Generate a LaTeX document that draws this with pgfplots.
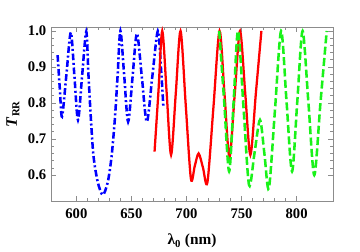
\documentclass[border=0pt]{standalone}
\usepackage{fontspec}
\setmainfont{Liberation Serif}
\usepackage{pgfplots}
\pgfplotsset{compat=1.18}
\definecolor{mygreen}{rgb}{0.1,0.95,0.1}
\begin{document}
\begin{tikzpicture}
\useasboundingbox (-38.25pt,-38.25pt) rectangle (231.75pt,150.75pt);
\begin{axis}[
  scale only axis,
  width=211.5pt, height=130.5pt,
  xmin=577, xmax=833,
  ymin=0.528, ymax=1.011,
  xtick={600,650,700,750,800},
  ytick={0.6,0.7,0.8,0.9,1.0},
  minor x tick num=4,
  minor y tick num=4,
  tick align=inside,
  major tick length=4pt,
  minor tick length=2pt,
  axis line style={black!45},
  every tick/.style={black!45, line width=0.5pt},
  /pgf/number format/assume math mode=true,
  yticklabel style={/pgf/number format/fixed,/pgf/number format/precision=1,/pgf/number format/fixed zerofill, font=\fontsize{11}{13}\selectfont\bfseries},
  xticklabel style={font=\fontsize{11}{13}\selectfont\bfseries, yshift=-2pt},
  xlabel={\textbf{λ\textsubscript{0} (nm)}},
  ylabel={\textbf{\textit{T}}\textsubscript{\textbf{RR}}},
  xlabel style={at={(axis description cs:0.5,-0.23)}, anchor=center, font=\fontsize{11.5}{13}\selectfont},
  ylabel style={at={(axis description cs:-0.135,0.5)}, anchor=center, font=\fontsize{12}{13}\selectfont},
  clip=true,
]
\addplot[blue, line width=1.9pt, smooth, dash pattern=on 5pt off 2pt on 1.5pt off 2pt] coordinates {
(583,0.933)(585,0.84)(587,0.762)(591,0.879)(595,0.996)(598.25,0.875)(601.5,0.753)(605.25,0.876)(609,0.998)(611,0.878)(613.2,0.757)(615.6,0.652)(619.5,0.58)(624,0.545)(628.5,0.58)(632,0.652)(635,0.757)(637.5,0.878)(640,1.0)(643.5,0.874)(647,0.748)(651,0.871)(655,0.993)(659.5,0.871)(664,0.748)(669,0.874)(674,1.0)(677,0.89)(679,0.79)
};
\addplot[red, line width=1.7pt, smooth] coordinates {
(671,0.665)(674.5,0.83)(678,1.0)(682,0.828)(686,0.656)(690.3,0.828)(694.6,1.0)(699.3,0.795)(704,0.59)(707.5,0.625)(711,0.66)(715,0.62)(719,0.58)(724.5,0.79)(730,1.0)(734.5,0.825)(739,0.65)(743.8,0.825)(748.6,1.0)(753.3,0.828)(758,0.656)(763,0.828)(768,1.0)
};
\addplot[mygreen, line width=1.9pt, smooth, dash pattern=on 6pt off 2.5pt] coordinates {
(729.7,1.0)(734.2,0.805)(738.7,0.61)(742.8,0.805)(746.8,1.0)(751.8,0.786)(756.8,0.572)(761.7,0.66)(766.7,0.753)(770.7,0.66)(774.8,0.563)(780.3,0.78)(785.9,1.0)(790.8,0.805)(795.8,0.61)(800.6,0.805)(805.4,1.0)(810.7,0.8)(816,0.6)(821.6,0.8)(827.3,1.0)
};
\end{axis}
\end{tikzpicture}
\end{document}
